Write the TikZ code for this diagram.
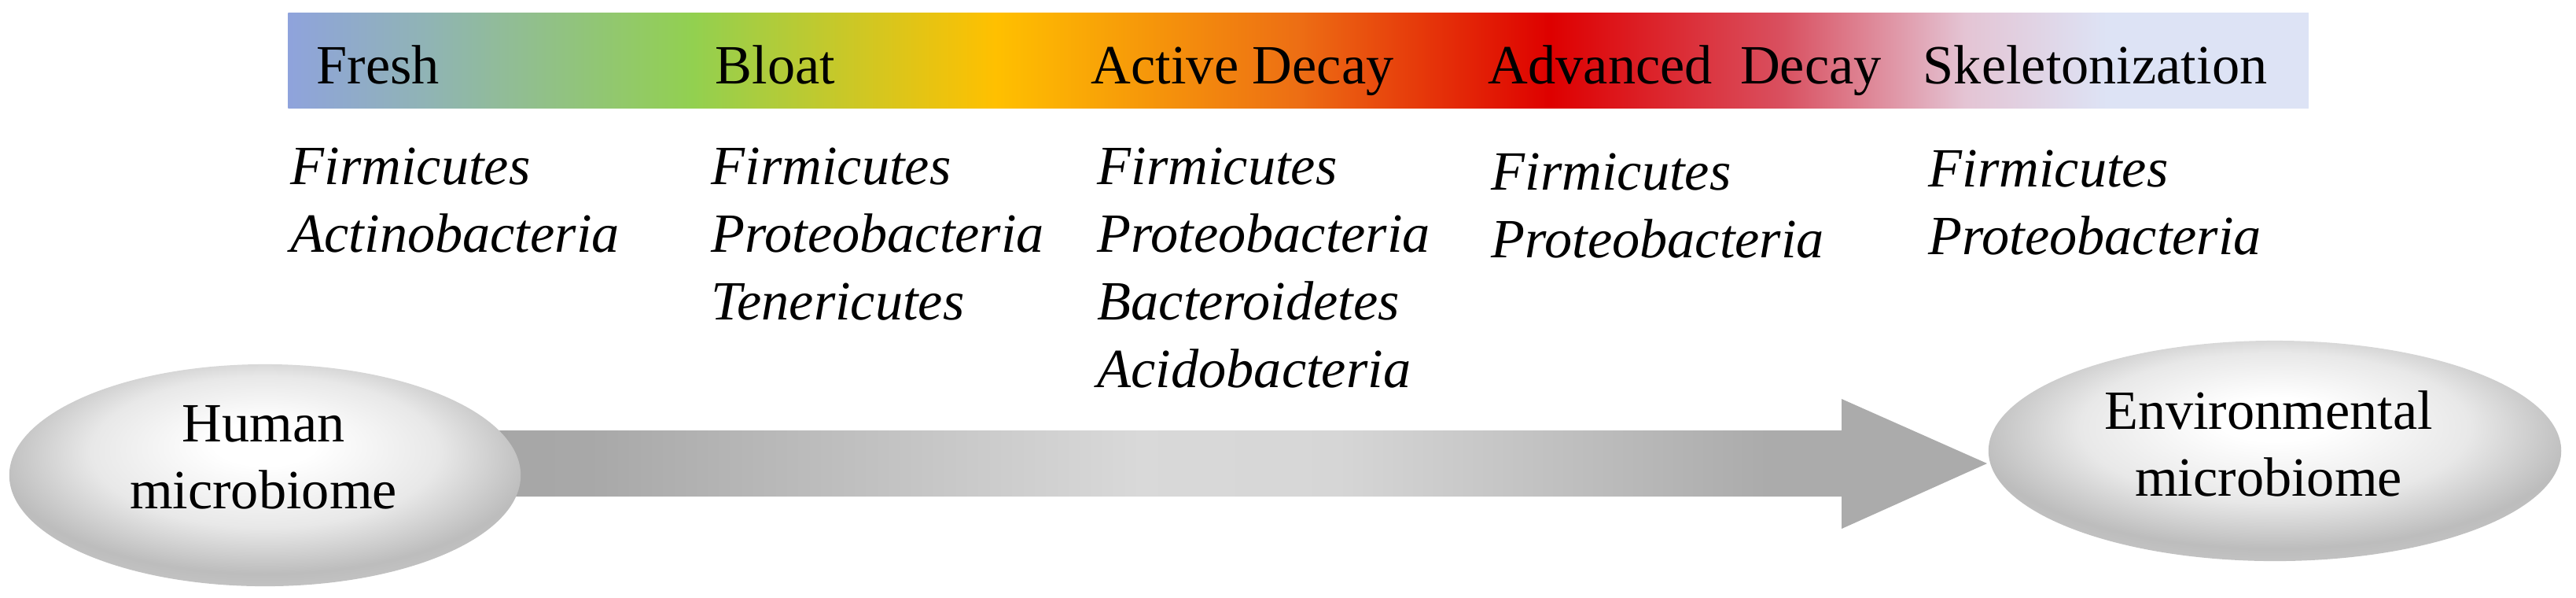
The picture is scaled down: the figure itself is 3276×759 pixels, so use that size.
\documentclass[tikz,border=0pt]{standalone}
\usepackage{fontspec}
\setmainfont{Liberation Serif}
\usetikzlibrary{calc,shapes.geometric}
\pgfdeclarehorizontalshading{barshade}{100bp}{rgb(0bp)=(0.561,0.639,0.863); rgb(25bp)=(0.561,0.639,0.863); rgb(28.5bp)=(0.565,0.706,0.706); rgb(35bp)=(0.573,0.816,0.314); rgb(42.5bp)=(1,0.753,0); rgb(50bp)=(0.929,0.431,0.078); rgb(56.25bp)=(0.871,0,0); rgb(62bp)=(0.851,0.314,0.376); rgb(66.5bp)=(0.894,0.769,0.831); rgb(70bp)=(0.867,0.89,0.961); rgb(75bp)=(0.867,0.89,0.961); rgb(100bp)=(0.867,0.89,0.961)}
\pgfdeclarehorizontalshading{arrowshade}{100bp}{gray(0bp)=(0.65); gray(25bp)=(0.65); gray(29bp)=(0.66); gray(47bp)=(0.85); gray(53.5bp)=(0.84); gray(67.8bp)=(0.67); gray(75bp)=(0.67); gray(100bp)=(0.67)}
\pgfdeclareradialshading{ballshade}{\pgfpoint{0bp}{8bp}}{gray(0bp)=(1); gray(5bp)=(1); gray(17bp)=(0.91); gray(26bp)=(0.74); gray(33bp)=(0.80); gray(50bp)=(0.80)}
\begin{document}
\begin{tikzpicture}[x=0.01cm,y=-0.01cm,
  stage/.style={anchor=base west, inner sep=0pt, font=\fontsize{20}{24}\selectfont},
  taxa/.style={anchor=north west, inner sep=0pt, align=left, font=\fontsize{20}{24.5}\selectfont\itshape},
  ball/.style={ellipse, shading=ballshade, inner sep=0pt},
  balltext/.style={align=center, inner sep=0pt, font=\fontsize{20}{24.2}\selectfont},
  barbox/.style={rectangle, shading=barshade, inner sep=0pt, minimum width=25.68cm, minimum height=1.2cm},
  flow/.style={shading=arrowshade}
]
\useasboundingbox (0,0) rectangle (3276,759);
% gradient bar of stages
\node[barbox] (bar) at (1651,77) {};
\node[stage] (fresh) at (402,106) {Fresh};
\node[stage] (bloat) at (909,106) {Bloat};
\node[stage] (active) at (1387,106) {Active Decay};
\node[stage] (advanced) at (1892,106) {Advanced~~Decay};
\node[stage] (skel) at (2445,106) {Skeletonization};
% taxa
\node[taxa] (t1) at (369,187) {Firmicutes\\Actinobacteria};
\node[taxa] (t2) at (904,187) {Firmicutes\\Proteobacteria\\Tenericutes};
\node[taxa] (t3) at (1395,187) {Firmicutes\\Proteobacteria\\Bacteroidetes\\Acidobacteria};
\node[taxa] (t4) at (1896,194) {Firmicutes\\Proteobacteria};
\node[taxa] (t5) at (2452,190) {Firmicutes\\Proteobacteria};
% big arrow
\coordinate (tail) at (600,589);
\coordinate (tip) at (2527,589);
\path[flow] ($(tail)+(0,-42)$) -- ($(tip)+(-185,-42)$) -- ($(tip)+(-185,-82)$) -- (tip)
  -- ($(tip)+(-185,83)$) -- ($(tip)+(-185,42)$) -- ($(tail)+(0,42)$) -- cycle;
% ellipses
\node[ball, minimum width=6.5cm, minimum height=2.82cm] (hum) at (337,604) {};
\node[balltext] (humtxt) at (335,581) {Human\\microbiome};
\node[ball, minimum width=7.28cm, minimum height=2.8cm] (env) at (2893,573) {};
\node[balltext] (envtxt) at (2885,564) {Environmental\\microbiome};
\end{tikzpicture}
\end{document}
